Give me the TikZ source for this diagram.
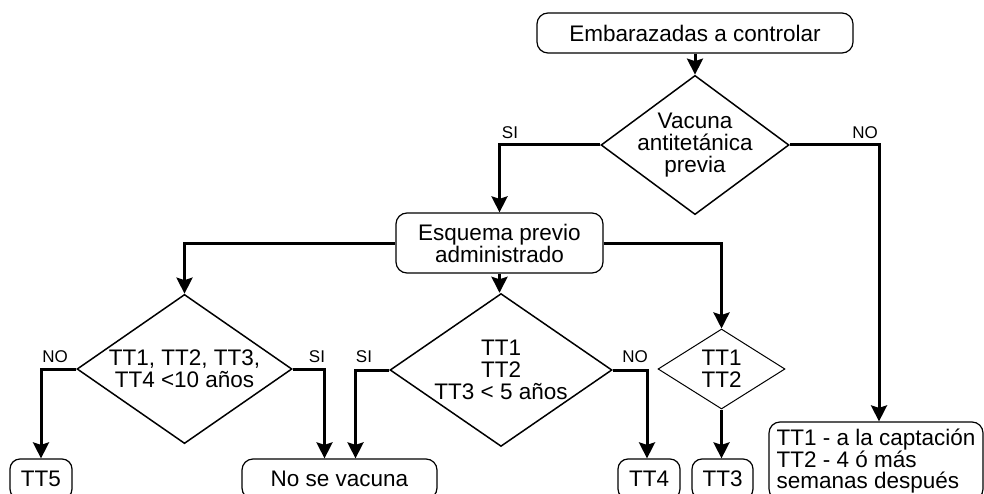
\documentclass[tikz,border=0pt]{standalone}
\usepackage{fontspec}
\setmainfont{Liberation Sans}
\usepackage{tikz}
\usetikzlibrary{shapes.geometric, arrows.meta, positioning}

\begin{document}
\begin{tikzpicture}[x=1pt,y=-1pt,>={Stealth[length=16pt,width=16pt,inset=2.5pt]},
        flow/.style={->,line width=3pt},
        box/.style={draw,rounded corners=11pt,line width=1.2pt,inner sep=0pt,align=center,
            font=\fontsize{22.5}{22}\selectfont},
        test/.style={draw,diamond,line width=1.5pt,inner sep=-10pt,align=center,
            font=\fontsize{22.5}{22}\selectfont},
        tag/.style={font=\fontsize{17}{17}\selectfont,inner sep=0pt}]
        \useasboundingbox (0,0) rectangle (984,494);

        \node[box,minimum width=316pt,minimum height=40pt] (emb) at (695,33) {Embarazadas a controlar};
        \node[test,minimum width=188pt,minimum height=119pt] (vac) at (695,145) {Vacuna\\antitet\'anica\\previa};
        \node[box,minimum width=207pt,minimum height=60pt] (esq) at (499.5,243) {Esquema previo\\administrado};
        \node[test,minimum width=215pt,minimum height=139pt] (d1) at (184.5,369) {TT1, TT2, TT3,\\TT4 <10 a\~nos};
        \node[test,minimum width=222pt,minimum height=141pt] (d2) at (501,370) {TT1\\TT2\\TT3 < 5 a\~nos};
        \node[test,line width=1pt,minimum width=127pt,minimum height=80pt] (d3) at (721.5,369) {TT1\\TT2};

        \node[box,minimum width=62pt,minimum height=40pt,rounded corners=10pt] (tt5) at (41,479) {TT5};
        \node[box,minimum width=195pt,minimum height=40pt] (nov) at (339.5,479) {No se vacuna};
        \node[box,minimum width=62pt,minimum height=40pt,rounded corners=10pt] (tt4) at (649,479) {TT4};
        \node[box,minimum width=61pt,minimum height=40pt,rounded corners=10pt] (tt3) at (722.5,479) {TT3};
        \node[box,minimum width=214pt,minimum height=78pt,align=left,
            font=\fontsize{22.5}{21}\selectfont] (fin) at (876,461)
            {TT1 - a la captaci\'on\\TT2 - 4 \'o m\'as\\semanas despu\'es};

        % etiquetas
        \node[tag] (si0) at (510,133) {SI};
        \node[tag] (no0) at (865,133) {NO};
        \node[tag] (no1) at (55,357) {NO};
        \node[tag] (si1) at (317,357) {SI};
        \node[tag] (si2) at (364,357) {SI};
        \node[tag] (no2) at (635,357) {NO};

        \draw[flow] (emb) -- (vac);
        \draw[flow] (vac.west) -| (esq.north);
        \draw[flow] (vac.east) -| ([xshift=3pt]fin.north);
        \draw[flow] (esq.west) -| (d1.north);
        \draw[flow] (esq.south) -- (esq.south |- d2.north);
        \draw[flow] (esq.east) -| (d3.north);
        \draw[flow] (d1.west) -| (tt5.north);
        \draw[flow] (d1.east) -| ([xshift=-15pt]nov.north);
        \draw[flow] (d2.west) -| ([xshift=16pt]nov.north);
        \draw[flow] (d2.east) -| ([xshift=-2pt]tt4.north);
        \draw[flow] (d3.south) -- (d3.south |- tt3.north);
    \end{tikzpicture}
\end{document}
